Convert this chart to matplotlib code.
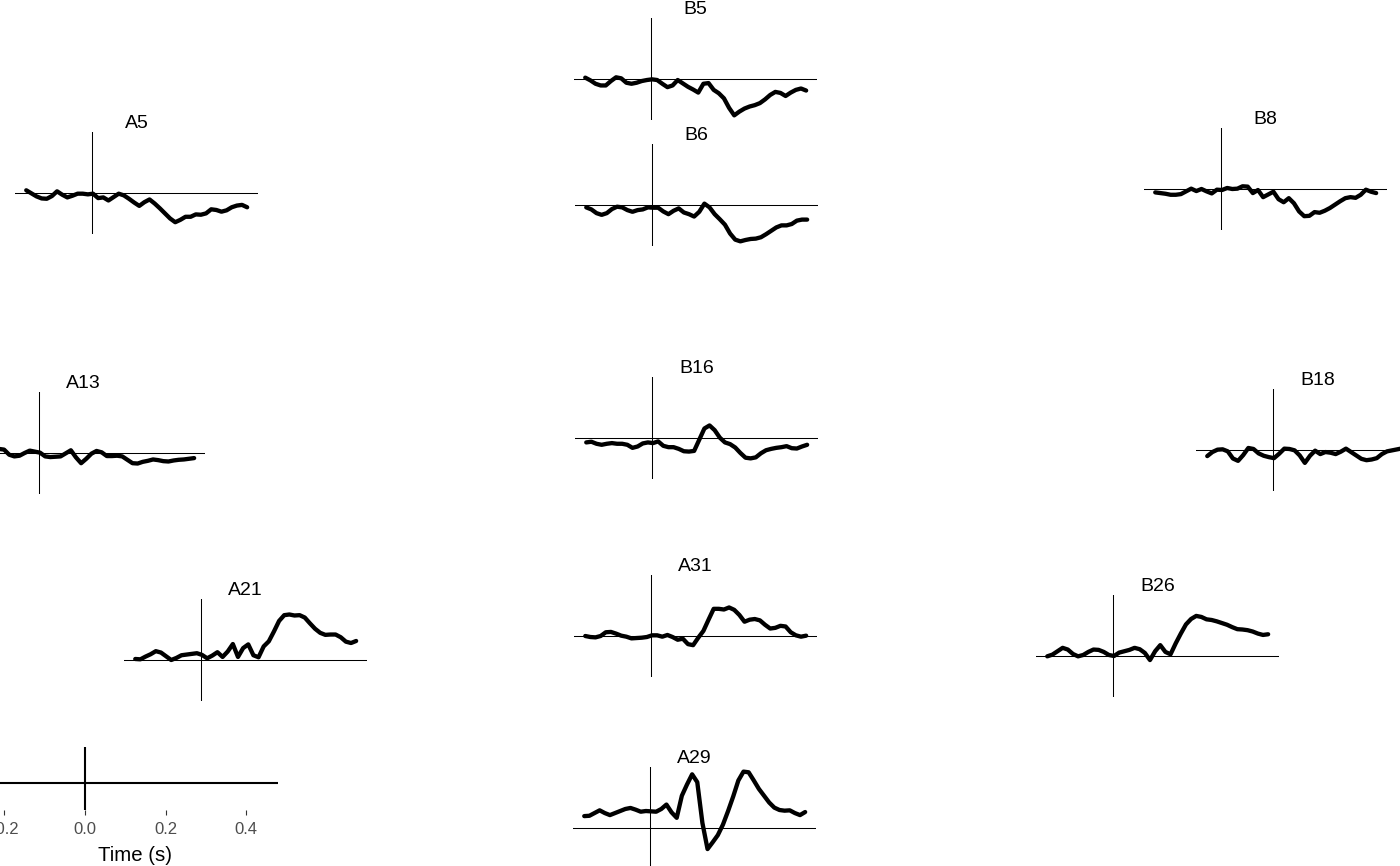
import numpy as np
import matplotlib.pyplot as plt

plt.rcParams['font.family'] = ['Liberation Sans', 'DejaVu Sans']
plt.rcParams['axes.unicode_minus'] = False

# --- Data: ERP per electrode (µV), sampled at 80 Hz ---
times = np.arange(-160, 380, 12.5) / 1000  # seconds

amp_A5 = [0.8, -0.1, -1.0, -1.6, -1.7, -0.9, 0.5, -0.5, -1.3, -0.8, -0.2, -0.2, -0.4, -0.2, -1.5,
          -1.3, -2.2, -1.2, -0.2, -0.7, -1.7, -2.8, -3.8, -2.7, -1.9, -3.1, -4.5, -6.0, -7.5, -8.6,
          -7.9, -7.0, -7.0, -6.3, -6.4, -6.0, -4.8, -5.0, -5.5, -5.1, -4.2, -3.7, -3.5, -4.2]
amp_B5 = [0.4, -0.4, -1.4, -1.9, -1.9, -0.6, 0.5, 0.2, -1.1, -1.4, -1.1, -0.6, -0.3, -0.1, -0.3,
          -1.4, -2.4, -1.9, -0.3, -1.3, -2.3, -3.1, -4.0, -1.4, -1.2, -3.2, -4.2, -5.7, -8.5, -10.7,
          -9.6, -8.7, -8.1, -7.7, -7.1, -6.0, -4.7, -3.8, -4.1, -5.0, -4.0, -3.2, -2.8, -3.4]
amp_B6 = [-0.7, -1.3, -2.4, -2.9, -2.4, -1.2, -0.5, -0.7, -1.5, -2.0, -1.5, -1.3, -0.7, -0.8, -0.8,
          -1.9, -2.7, -1.7, -1.0, -2.2, -2.7, -3.4, -2.0, 0.4, -0.7, -2.7, -4.2, -5.8, -8.4, -10.2,
          -10.7, -10.3, -10.0, -9.9, -9.5, -8.6, -7.6, -6.6, -6.0, -6.0, -5.6, -4.6, -4.3, -4.3]
amp_B8 = [-1.0, -1.2, -1.4, -1.7, -1.7, -1.5, -0.7, 0.1, -0.6, 0.0, -0.7, -1.3, -0.2, -0.3, 0.3,
          0.0, 0.1, 0.8, 0.7, -1.2, -0.3, -2.4, -1.6, -0.8, -3.0, -3.9, -2.7, -4.2, -6.6, -8.0,
          -7.9, -6.8, -7.0, -6.4, -5.6, -4.6, -3.6, -2.7, -2.4, -2.6, -1.7, -0.2, -0.8, -1.2]
amp_A13 = [0.4, 0.8, 0.6, 0.9, 1.2, 1.2, 1.0, -0.5, -1.0, -0.8, 0.0, 0.7, 0.4, 0.1, -1.0,
           -1.2, -1.1, -1.0, -0.1, 0.8, -1.3, -3.0, -1.7, -0.2, 0.6, 0.2, -0.9, -0.9, -0.8, -1.0,
           -2.0, -3.0, -3.1, -2.6, -2.3, -1.9, -2.1, -2.4, -2.5, -2.2, -2.0, -1.9, -1.7, -1.5]
amp_B16 = [-1.3, -1.1, -1.7, -2.0, -1.7, -1.5, -1.7, -1.7, -2.0, -2.9, -2.5, -1.6, -1.3, -1.5, -1.0,
           -2.3, -2.7, -2.7, -3.2, -3.9, -4.0, -3.8, -0.5, 2.8, 3.7, 2.3, 0.1, -1.3, -1.8, -2.8,
           -4.4, -5.8, -6.0, -5.7, -4.5, -3.6, -3.2, -2.9, -2.7, -2.4, -3.0, -3.1, -2.5, -2.0]
amp_B18 = [-1.8, -0.6, 0.1, 0.2, -0.4, -2.5, -3.2, -1.5, 0.6, 0.3, -1.0, -1.7, -2.1, -2.4, -1.1,
           0.4, 0.3, -0.1, -1.6, -3.8, -1.7, -0.2, -1.2, -0.6, -0.8, -1.2, -0.5, 0.4, -0.6, -1.6,
           -2.6, -3.0, -2.8, -2.4, -1.2, -0.4, -0.1, 0.2, 0.5, 0.6, 0.4, 0.6, 0.5, 0.4]
amp_A21 = [0.3, 0.2, 1.0, 1.7, 2.6, 2.2, 1.1, 0.0, 0.6, 1.4, 1.6, 1.8, 2.0, 1.5, 0.5,
           1.3, 2.3, 0.9, 2.5, 4.7, 0.9, 3.5, 4.6, 1.4, 0.8, 4.0, 5.5, 8.4, 11.5, 13.2,
           13.4, 13.1, 13.2, 12.5, 10.8, 9.2, 8.0, 7.4, 7.5, 7.5, 6.7, 5.4, 5.0, 5.6]
amp_A31 = [0.0, -0.3, -0.4, 0.0, 1.1, 1.2, 0.7, 0.1, -0.2, -0.7, -0.6, -0.5, -0.3, 0.2, 0.2,
           -0.2, 0.3, -0.3, -1.1, -0.8, -2.4, -2.7, -0.5, 1.5, 4.8, 8.0, 8.0, 7.8, 8.4, 7.7,
           6.2, 4.2, 4.8, 5.0, 4.6, 3.3, 2.2, 2.4, 3.0, 2.8, 1.1, 0.2, -0.2, 0.1]
amp_B26 = [-0.1, 0.4, 1.4, 2.4, 1.9, 0.6, -0.1, 0.3, 1.2, 1.9, 1.8, 1.2, 0.3, 0.0, 1.0,
           1.4, 1.8, 2.4, 2.0, 0.9, -1.2, 1.4, 3.2, 1.2, 0.5, 3.7, 6.6, 9.3, 10.9, 11.8,
           11.5, 10.8, 10.6, 10.2, 9.7, 9.2, 8.5, 7.9, 7.8, 7.6, 7.2, 6.6, 6.2, 6.4]
amp_A29 = [3.5, 3.6, 4.4, 5.2, 4.4, 3.8, 4.4, 5.0, 5.6, 5.9, 5.4, 4.8, 5.0, 4.9, 4.8,
           5.6, 6.9, 4.6, 3.0, 9.5, 12.8, 15.8, 13.5, 1.5, -6.2, -4.2, -2.1, 1.0, 5.0, 9.3,
           14.0, 16.6, 16.4, 14.0, 11.5, 9.5, 7.5, 6.0, 5.3, 5.1, 5.2, 4.4, 3.8, 4.7]

electrodes = {
    'A5': amp_A5, 'B5': amp_B5, 'B6': amp_B6, 'B8': amp_B8, 'A13': amp_A13, 'B16': amp_B16,
    'B18': amp_B18, 'A21': amp_A21, 'A31': amp_A31, 'B26': amp_B26, 'A29': amp_A29,
}

# --- Layout: pixel position of each electrode's (t=0, 0 µV) origin ---
origins = {
    'A5': (92, 193), 'B5': (651, 79), 'B6': (652, 205), 'B8': (1221, 189),
    'A13': (39, 453), 'B16': (652, 438), 'B18': (1273, 450),
    'A21': (201, 660), 'A31': (651, 636), 'B26': (1113, 656), 'A29': (650, 828),
}

FW, FH = 1400, 866
PW, PH = 243, 102  # inset size in px

def px_axes(left, top, w, h):
    return fig.add_axes([left / FW, 1 - (top + h) / FH, w / FW, h / FH])

all_amp = np.concatenate([np.asarray(v) for v in electrodes.values()])
lo, hi = all_amp.min(), all_amp.max()
ylim = (lo - 0.05 * (hi - lo), hi + 0.05 * (hi - lo))
tr = times[-1] - times[0]
xlim = (times[0] - 0.05 * tr, times[-1] + 0.05 * tr)

fig = plt.figure(figsize=(FW / 100, FH / 100), dpi=100)

for name, amp in electrodes.items():
    ox, oy = origins[name]
    left = ox - (0 - xlim[0]) / (xlim[1] - xlim[0]) * PW
    top = oy - (ylim[1] - 0) / (ylim[1] - ylim[0]) * PH
    ax = px_axes(left, top, PW, PH)
    ax.axhline(0, color='black', lw=0.75)
    ax.axvline(0, color='black', lw=0.75)
    ax.plot(times, amp, color='black', lw=3.1, solid_joinstyle='round', solid_capstyle='round')
    ax.set_xlim(xlim)
    ax.set_ylim(ylim)
    ax.axis('off')
    ax.text(0.5, 1 + 3.5 / PH, name, transform=ax.transAxes, ha='center', va='baseline',
            fontsize=14, color='black')

# --- Scale guide (bottom-left) ---
sx = px_axes(85 - 0.23 * 402.5, 747, 0.71 * 402.5, 63)
sx.set_xlim(-0.23, 0.48)
sx.set_ylim(-13.5, 18)
sx.axhline(0, color='black', lw=1.5)
sx.axvline(0, color='black', lw=1.5)
for s in sx.spines.values():
    s.set_visible(False)
sx.set_yticks([])
sx.set_xticks([-0.2, 0.0, 0.2, 0.4])
sx.set_xticklabels(['-0.2', '0.0', '0.2', '0.4'])
sx.tick_params(axis='x', length=3.4, width=0.8, color='#333333', labelcolor='#4D4D4D',
               labelsize=12, pad=5.5)
sx.set_xlabel('Time (s)', fontsize=14.7, labelpad=6.5)
sx.patch.set_visible(False)

fig.savefig('out.png', dpi=100)
